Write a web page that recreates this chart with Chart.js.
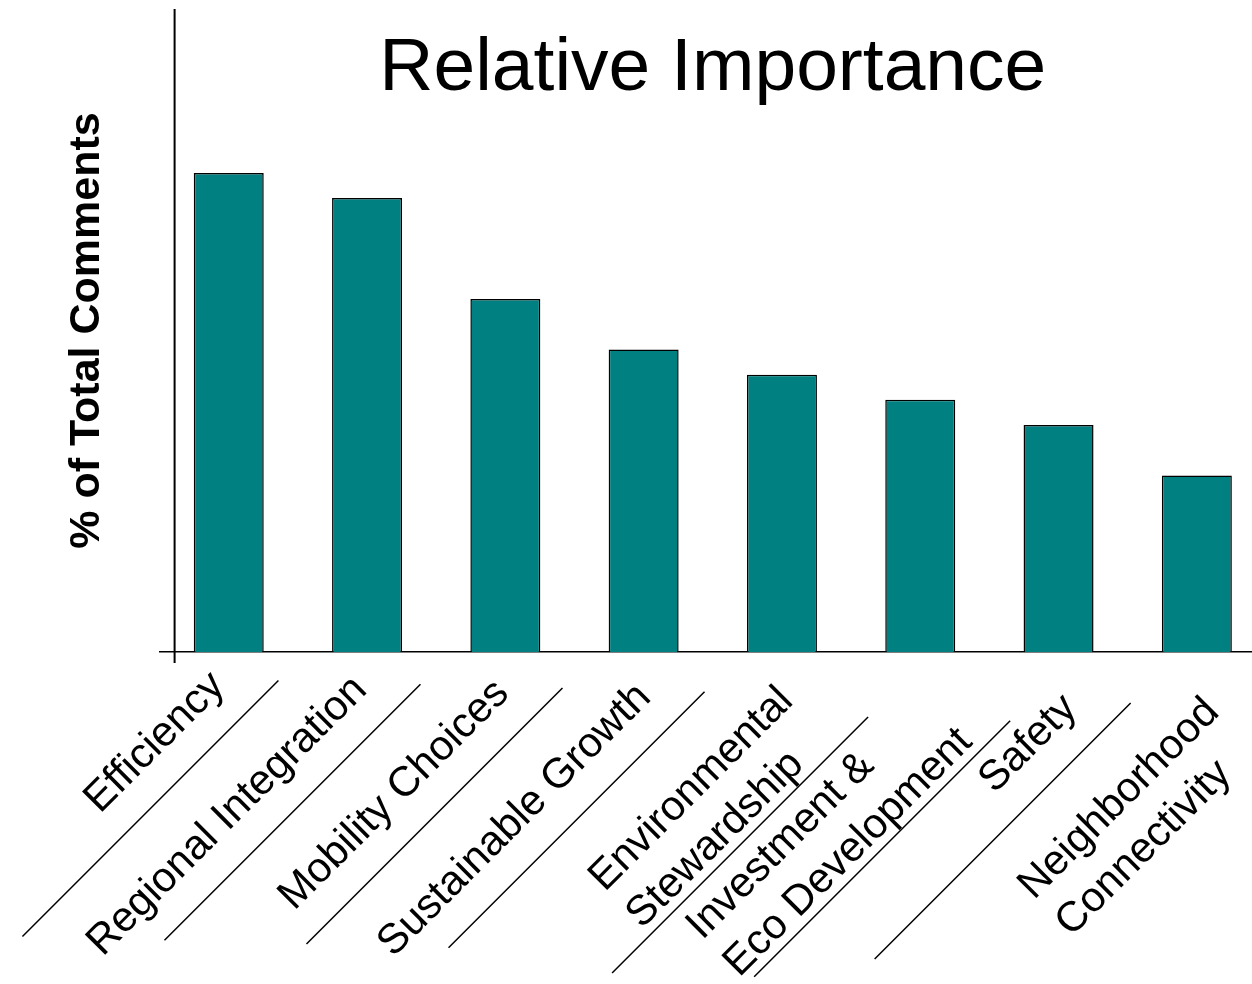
<!DOCTYPE html>
<html>
<head>
<meta charset="utf-8">
<title>Relative Importance</title>
<script src="https://cdn.jsdelivr.net/npm/chart.js"></script>
<style>
  html, body { margin: 0; padding: 0; background: #fff; overflow: hidden; }
  canvas { display: block; }
</style>
</head>
<body>
<canvas id="myChart" width="1300" height="984"></canvas>
<script>
const categories = [
  'Efficiency',
  'Regional Integration',
  'Mobility Choices',
  'Sustainable Growth',
  ['Environmental', 'Stewardship'],
  ['Investment &', 'Eco Development'],
  'Safety',
  ['Neighborhood', 'Connectivity']
];
const shares = [19, 18, 14, 12, 11, 10, 9, 7];

const fontFamily = "'Liberation Sans', Arial, sans-serif";
const labelSize = 42;
const labelLine = labelSize * 1.25;
const labelSpread = 0.027;

Chart.defaults.font.family = fontFamily;
Chart.defaults.color = '#000';

// slanted category labels (left aligned like the slide) + the diagonal separators
const slantedLabels = {
  id: 'slantedLabels',
  afterDraw(chart) {
    const ctx = chart.ctx;
    const x = chart.scales.x;
    const area = chart.chartArea;
    const base = area.bottom;
    const mid = (area.left + area.right) / 2;
    const lines = categories.map(c => Array.isArray(c) ? c : [c]);
    const firstU = [];

    ctx.save();
    ctx.font = labelSize + 'px ' + fontFamily;
    ctx.fillStyle = '#000';
    ctx.textBaseline = 'middle';
    ctx.textAlign = 'left';
    lines.forEach((ls, i) => {
      const tx = x.getPixelForTick(i);
      const shift = labelSpread * (tx - mid);
      const ax = tx - 16 + shift;
      const ay = base + 22 + shift;
      firstU.push(ax + ay + labelLine / 2 * Math.SQRT2);
      const w = Math.max(...ls.map(l => ctx.measureText(l).width));
      ctx.save();
      ctx.translate(ax, ay);
      ctx.rotate(-Math.PI / 4);
      ls.forEach((l, k) => ctx.fillText(l, -w, labelLine / 2 + k * labelLine));
      ctx.restore();
    });

    ctx.strokeStyle = '#000';
    ctx.lineWidth = 1.5;
    for (let i = 0; i < lines.length - 1; i++) {
      const mx = (x.getPixelForTick(i) + x.getPixelForTick(i + 1)) / 2;
      const lastU = firstU[i] + (lines[i].length - 1) * labelLine * Math.SQRT2;
      const k = lastU + 0.42 * (firstU[i + 1] - lastU);
      const vTop = mx - base - 48;
      const vBot = vTop - 512;
      ctx.beginPath();
      ctx.moveTo((k + vTop) / 2, (k - vTop) / 2);
      ctx.lineTo((k + vBot) / 2, (k - vBot) / 2);
      ctx.stroke();
    }
    ctx.restore();
  }
};

// value axis line sits a little inside the plot, with a short tick below the baseline
const yAxisLine = {
  id: 'yAxisLine',
  afterDatasetsDraw(chart) {
    const ctx = chart.ctx;
    const area = chart.chartArea;
    ctx.save();
    ctx.strokeStyle = '#000';
    ctx.lineWidth = 2;
    ctx.beginPath();
    ctx.moveTo(area.left + 15, area.top);
    ctx.lineTo(area.left + 15, area.bottom + 11);
    ctx.stroke();
    ctx.restore();
  }
};

const data = {
  labels: categories,
  datasets: [{
    label: '% of Total Comments',
    data: shares,
    backgroundColor: '#008080',
    borderColor: '#000',
    borderWidth: 1.5,
    barPercentage: 0.506,
    categoryPercentage: 1
  }]
};

const config = {
  type: 'bar',
  data: data,
  options: {
    responsive: false,
    animation: false,
    layout: { padding: { left: 50, right: 34, top: 0, bottom: 0 } },
    plugins: {
      legend: { display: false },
      tooltip: { enabled: false },
      title: {
        display: true,
        text: 'Relative Importance',
        color: '#000',
        fullSize: false,
        font: { size: 75, weight: 'normal', lineHeight: 1.2 },
        padding: { top: 24, bottom: -105 }
      }
    },
    scales: {
      x: {
        grid: { display: false, drawTicks: false },
        border: { display: true, color: '#000', width: 1.5 },
        ticks: { display: false },
        afterFit(scale) { scale.height = 332; }
      },
      y: {
        min: 0,
        max: 25.5,
        grid: { display: false, drawTicks: false },
        border: { display: false },
        ticks: { display: false },
        title: {
          display: true,
          text: '% of Total Comments',
          color: '#000',
          font: { size: 43, weight: 'bold', lineHeight: 1.2 },
          padding: { top: 11, bottom: 47 }
        }
      }
    }
  },
  plugins: [slantedLabels, yAxisLine]
};

const myChart = new Chart(
  document.getElementById('myChart'),
  config
);
</script>
</body>
</html>
